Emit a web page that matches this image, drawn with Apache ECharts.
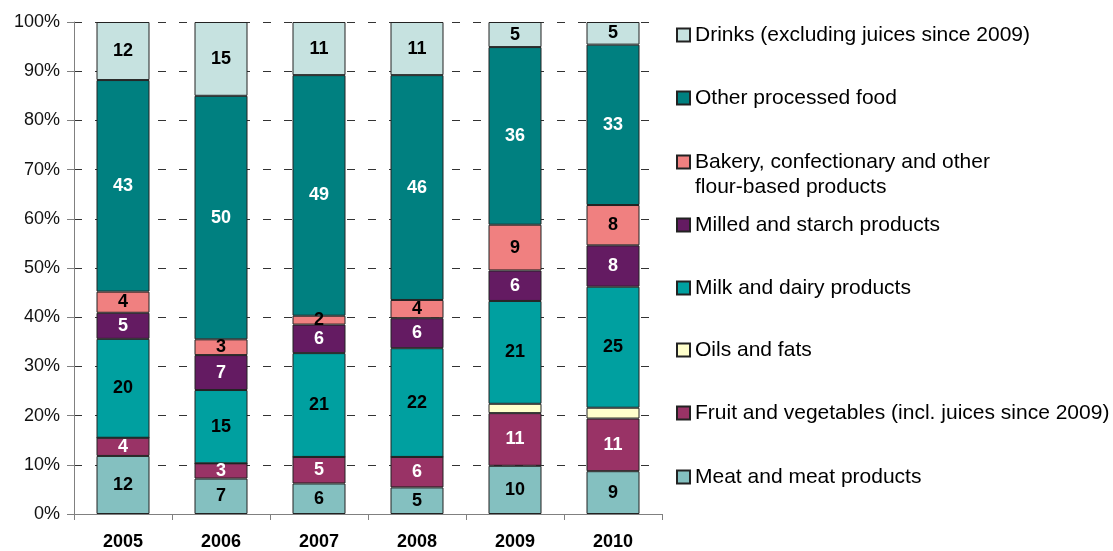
<!DOCTYPE html>
<html>
<head>
<meta charset="utf-8">
<script src="https://cdn.jsdelivr.net/npm/echarts@6/dist/echarts.min.js"></script>
<style>html,body{margin:0;padding:0;background:#fff}#c{width:1113px;height:551px}</style>
</head>
<body>
<div id="c"></div>
<script>
var years = ['2005', '2006', '2007', '2008', '2009', '2010'];
var meat    = [11.8, 7.2, 6.2, 5.4, 9.8, 8.7];
var fruit   = [3.7, 3.1, 5.4, 6.2, 10.7, 10.7];
var oils    = [0, 0, 0, 0, 1.9, 2.2];
var milk    = [20.1, 14.9, 21.1, 22.1, 20.9, 24.6];
var milled  = [5.3, 7.1, 5.8, 6.1, 6.2, 8.4];
var bakery  = [4.3, 3.2, 1.8, 3.7, 9.3, 8.2];
var other   = [43.0, 49.5, 48.9, 45.7, 36.1, 32.6];
var drinks  = [11.8, 15.0, 10.8, 10.8, 5.1, 4.6];
var yTicks = ['0%', '10%', '20%', '30%', '40%', '50%', '60%', '70%', '80%', '90%', '100%'];

var seriesDefs = [
  {name: 'Meat and meat products', data: meat, color: '#84C0C0', label: '#000', showLabel: true},
  {name: 'Fruit and vegetables (incl. juices since 2009)', data: fruit, color: '#993366', label: '#fff', showLabel: true},
  {name: 'Oils and fats', data: oils, color: '#FFFFCC', label: '#000', showLabel: false},
  {name: 'Milk and dairy products', data: milk, color: '#00A0A0', label: '#000', showLabel: true},
  {name: 'Milled and starch products', data: milled, color: '#641B62', label: '#fff', showLabel: true},
  {name: 'Bakery, confectionary and other\nflour-based products', data: bakery, color: '#F08080', label: '#000', showLabel: true},
  {name: 'Other processed food', data: other, color: '#008080', label: '#fff', showLabel: true},
  {name: 'Drinks (excluding juices since 2009)', data: drinks, color: '#C6E2E0', label: '#000', showLabel: true}
];

var series = seriesDefs.map(function (s) {
  return {
    name: s.name,
    type: 'bar',
    stack: 'total',
    barWidth: 53,
    data: s.data,
    itemStyle: {color: s.color, borderColor: '#222', borderWidth: 1},
    label: {
      show: s.showLabel,
      position: 'inside',
      color: s.label,
      fontFamily: 'Liberation Sans, Arial, sans-serif',
      fontWeight: 'bold',
      fontSize: 18,
      formatter: function (p) { return p.value > 0.5 ? String(Math.round(p.value)) : ''; }
    }
  };
});

// legend order top -> bottom and icon centre y positions
var legendOrder = [7, 6, 5, 4, 3, 2, 1, 0];
var legendCenters = [35, 98, 162, 225, 288, 350, 413, 477];
var legends = legendOrder.map(function (idx, i) {
  var two = seriesDefs[idx].name.indexOf('\n') >= 0;
  return {
    data: [seriesDefs[idx].name],
    orient: 'vertical',
    left: 676,
    top: two ? legendCenters[i] - 37.5 : legendCenters[i] - 12.5,
    padding: 0,
    itemWidth: 13,
    itemHeight: 13,
    icon: 'rect',
    selectedMode: false,
    formatter: two ? function (n) { return '\n' + n; } : '{name}',
    textStyle: {
      fontFamily: 'Liberation Sans, Arial, sans-serif',
      fontSize: 21,
      color: '#000',
      lineHeight: 25
    }
  };
});

var chart = echarts.init(document.getElementById('c'), null, {renderer: 'canvas'});
chart.setOption({
  animation: false,
  backgroundColor: '#fff',
  legend: legends,
  grid: {left: 74, right: 451, top: 22, bottom: 36, containLabel: false},
  xAxis: {
    type: 'category',
    data: years,
    axisLine: {show: true, lineStyle: {color: '#808080', width: 1}},
    axisTick: {show: true, interval: 0, length: 6, lineStyle: {color: '#808080'}},
    axisLabel: {
      color: '#000', fontWeight: 'bold', fontSize: 18, margin: 19,
      fontFamily: 'Liberation Sans, Arial, sans-serif'
    },
    z: 5
  },
  yAxis: {
    type: 'value',
    min: 0, max: 100, interval: 10,
    axisLine: {show: true, lineStyle: {color: '#808080', width: 1}},
    axisTick: {show: true, length: 7, lineStyle: {color: '#808080'}},
    axisLabel: {
      color: '#111', fontSize: 18, margin: 14,
      fontFamily: 'Liberation Sans, Arial, sans-serif',
      formatter: function (v) { return yTicks[Math.round(v / 10)]; }
    },
    splitLine: {show: true, lineStyle: {color: '#333', type: [8, 13], width: 1}}
  },
  series: series
});
</script>
</body>
</html>
